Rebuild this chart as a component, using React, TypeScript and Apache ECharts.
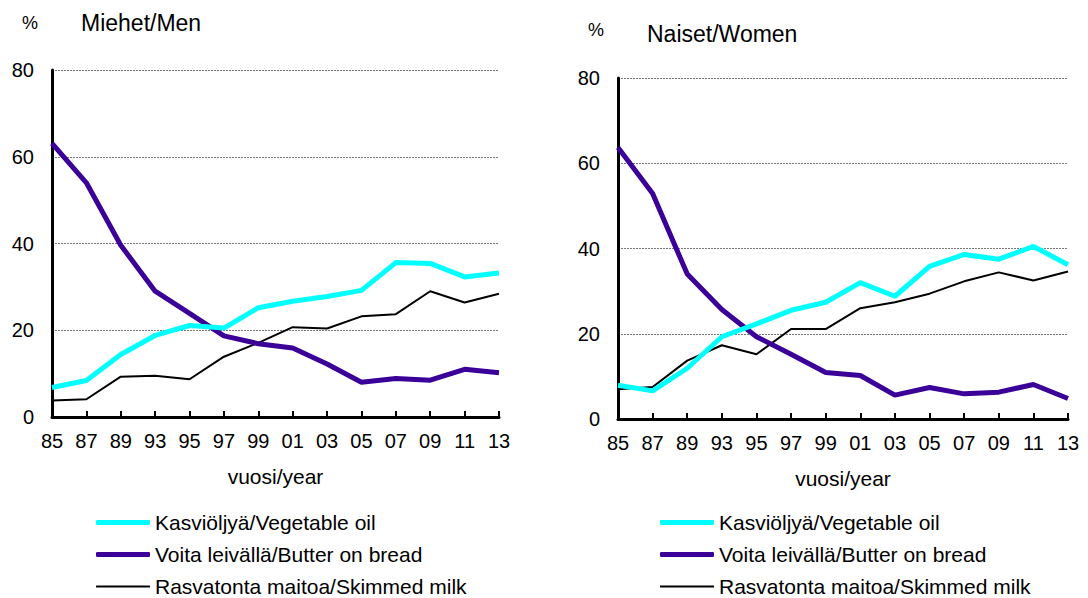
import React, { useEffect, useRef } from "react";
import * as echarts from "echarts";

const years = ["85", "87", "89", "93", "95", "97", "99", "01", "03", "05", "07", "09", "11", "13"];

const menOil = [6.8, 8.4, 14.4, 18.8, 21.1, 20.5, 25.2, 26.7, 27.8, 29.2, 35.6, 35.4, 32.3, 33.2];
const menButter = [63.1, 54.0, 39.6, 29.0, 23.9, 18.7, 16.9, 15.9, 12.2, 8.0, 8.9, 8.5, 11.0, 10.2];
const menMilk = [3.8, 4.1, 9.3, 9.5, 8.7, 13.9, 17.1, 20.7, 20.4, 23.2, 23.7, 29.0, 26.4, 28.4];

const womenOil = [7.9, 6.6, 11.9, 19.3, 22.3, 25.5, 27.4, 32.0, 28.8, 35.8, 38.6, 37.5, 40.5, 36.2];
const womenButter = [63.7, 52.9, 34.0, 25.7, 19.3, 15.2, 10.9, 10.2, 5.6, 7.4, 5.9, 6.3, 8.1, 4.8];
const womenMilk = [7.0, 7.5, 13.7, 17.3, 15.2, 21.1, 21.1, 26.0, 27.4, 29.4, 32.3, 34.4, 32.5, 34.6];

const seriesNames = ["Kasviöljyä/Vegetable oil", "Voita leivällä/Butter on bread", "Rasvatonta maitoa/Skimmed milk"];
const seriesColors = ["#00FFFF", "#3A0098", "#000000"];
const seriesWidths = [5, 5, 2];

const FONT = "'Liberation Sans', Arial, sans-serif";

export default function App() {
  const ref = useRef<HTMLDivElement>(null);
  useEffect(() => {
    if (!ref.current) return;
    const chart = echarts.init(ref.current, undefined, { renderer: "svg" });
    const grids = [
      { left: 52, top: 70, width: 447, height: 347 },
      { left: 618, top: 78, width: 450, height: 341 },
    ];
    const xAxis = grids.map((_, i) => ({
      type: "category" as const,
      gridIndex: i,
      data: years,
      boundaryGap: false,
      name: "vuosi/year",
      nameLocation: "middle" as const,
      nameGap: 49,
      nameTextStyle: { fontFamily: FONT, fontSize: 21, color: "#000" },
      axisLine: { lineStyle: { color: "#000", width: 3 } },
      axisTick: { show: true, inside: true, length: 6, lineStyle: { color: "#000", width: 2 } },
      axisLabel: { fontFamily: FONT, fontSize: 20, color: "#000", margin: 14, interval: 0 },
      splitLine: { show: false },
    }));
    const yAxis = grids.map((_, i) => ({
      type: "value" as const,
      gridIndex: i,
      min: 0,
      max: 80,
      interval: 20,
      axisLine: { show: true, lineStyle: { color: "#000", width: 3 } },
      axisTick: { show: false },
      axisLabel: { fontFamily: FONT, fontSize: 20, color: "#000", margin: 18 },
      splitLine: { show: true, lineStyle: { color: "#777", width: 1, type: [2, 1] as any } },
    }));
    const data = [
      [menOil, menButter, menMilk],
      [womenOil, womenButter, womenMilk],
    ];
    const series: any[] = [];
    data.forEach((group, gi) => {
      group.forEach((vals, si) => {
        series.push({
          type: "line",
          name: seriesNames[si],
          xAxisIndex: gi,
          yAxisIndex: gi,
          data: vals,
          symbol: "none",
          z: 5 - si,
          lineStyle: { color: seriesColors[si], width: seriesWidths[si] },
          itemStyle: { color: seriesColors[si] },
        });
      });
    });
    const legendTops = [512, 544, 576];
    const legendLefts = [96, 660];
    const legend: any[] = [];
    legendLefts.forEach((lx) => {
      seriesNames.forEach((name, si) => {
        legend.push({
          left: lx,
          top: legendTops[si],
          padding: 0,
          orient: "vertical",
          itemWidth: 54,
          itemHeight: seriesWidths[si],
          icon: "roundRect",
          itemGap: 0,
          textStyle: { fontFamily: FONT, fontSize: 21, color: "#000" },
          data: [name],
        });
      });
    });
    const titleStyle = (size: number) => ({ fontFamily: FONT, fontSize: size, fontWeight: "normal" as const, color: "#000" });
    chart.setOption({
      animation: false,
      backgroundColor: "#fff",
      title: [
        { text: "%", left: 22, top: 14, padding: 0, textStyle: titleStyle(18) },
        { text: "Miehet/Men", left: 81, top: 11, padding: 0, textStyle: titleStyle(23) },
        { text: "%", left: 588, top: 21, padding: 0, textStyle: titleStyle(18) },
        { text: "Naiset/Women", left: 647, top: 22, padding: 0, textStyle: titleStyle(23) },
      ],
      legend,
      grid: grids,
      xAxis,
      yAxis,
      series,
    });
    return () => chart.dispose();
  }, []);
  return <div ref={ref} style={{ position: "fixed", left: 0, top: 0, width: 1088, height: 598 }} />;
}
